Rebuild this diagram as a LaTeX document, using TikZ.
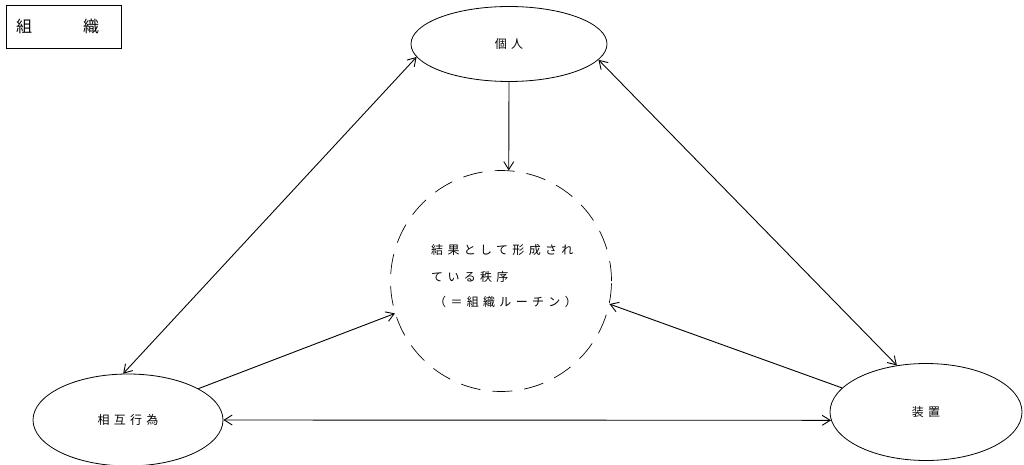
\documentclass[tikz,border=0pt]{standalone}
\usepackage{fontspec}
\newfontfamily\cjk[LetterSpace=36]{Noto Sans CJK JP}
\newfontfamily\cjkplain{Noto Sans CJK JP}
\usetikzlibrary{shapes.geometric,arrows.meta}
\begin{document}
\begin{tikzpicture}[x=1pt,y=-1pt,
  every node/.style={font=\cjk\fontsize{12pt}{14pt}\selectfont},
  oval/.style={draw,ellipse,line width=0.8pt,inner sep=0pt},
  conn/.style={line width=0.9pt},
  >={Straight Barb[length=8pt,width=10pt,line width=0.9pt]}]
\useasboundingbox (0,0) rectangle (1024,465);
\fill[white] (0,0) rectangle (1024,465);
% title box
\node[draw,line width=0.6pt,minimum width=115pt,minimum height=43pt,inner sep=0pt,
      font=\cjkplain\fontsize{16pt}{18pt}\selectfont] (title) at (63.5,26.5)
  {\makebox[115pt][l]{\hspace{10pt}組\hspace{51pt}織}};
% nodes
\node[oval,minimum width=196pt,minimum height=75pt] (kojin) at (509,44) {個人};
\node[oval,minimum width=190pt,minimum height=92pt] (sougo) at (128,420) {相互行為};
\node[oval,minimum width=192pt,minimum height=97pt] (souchi) at (926,412) {装置};
\node[draw,circle,dash pattern=on 20pt off 12pt,line width=0.7pt,
      minimum size=221pt,inner sep=0pt] (order) at (501,281) {};
\node[anchor=west,inner sep=0pt] (t1) at (431,250) {結果として形成され};
\node[anchor=west,inner sep=0pt] (t2) at (431,277) {ている秩序};
\node[anchor=west,inner sep=0pt] (t3) at (434,302) {（＝組織ルーチン）};
% connectors
\draw[conn,<->] (kojin.188) -- (sougo.96);
\draw[conn,<->] (kojin.350) -- (souchi.122);
\draw[conn,->] (kojin.south) -- (order.86);
\draw[conn,->] (sougo.24) -- (order.197);
\draw[conn,->] (souchi.164) -- (order.348);
\draw[conn,<->] (sougo.east) -- (souchi.185);
\end{tikzpicture}
\end{document}
